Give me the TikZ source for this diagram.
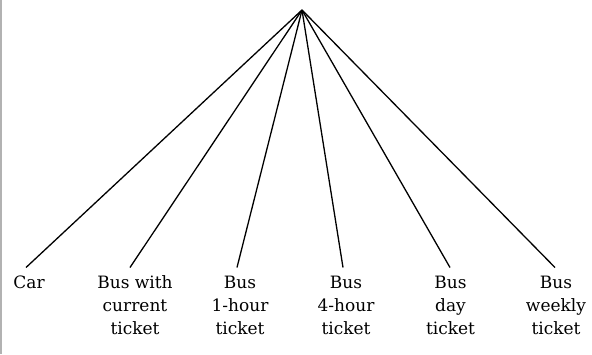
\documentclass[tikz,border=0pt]{standalone}
\usepackage{fontspec}
\setmainfont{DejaVu Serif}
\begin{document}
\begin{tikzpicture}[x=1pt,y=-1pt,
  leaf/.style={align=center,inner sep=0pt,anchor=north,font=\fontsize{17}{23}\selectfont},
  branch/.style={line width=1.3pt,black}]
\useasboundingbox (0,0) rectangle (592,354);
\draw[gray!60,line width=1.5pt] (1,0) -- (1,354);
\coordinate (apex) at (302,10);
\node[leaf] (car) at (29,275.5) {Car};
\node[leaf] (cur) at (135,275.5) {Bus with\\current\\ticket};
\node[leaf] (h1) at (240,275.5) {Bus\\1-hour\\ticket};
\node[leaf] (h4) at (346,275.5) {Bus\\4-hour\\ticket};
\node[leaf] (day) at (450.5,275.5) {Bus\\day\\ticket};
\node[leaf] (wk) at (556,275.5) {Bus\\weekly\\ticket};
\foreach \n/\s in {car/-3,cur/-5,h1/-3,h4/-3,day/-0.5,wk/-1}
  \draw[branch] (apex) -- ([xshift=\s pt,yshift=8pt]\n.north);
\end{tikzpicture}
\end{document}
